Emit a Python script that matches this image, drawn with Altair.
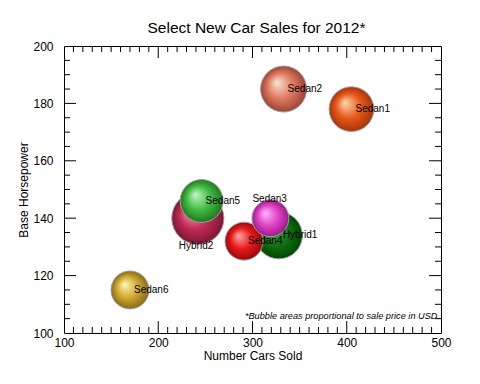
import altair as alt
import pandas as pd

# ---- data ----
cars = ["Sedan1", "Sedan2", "Hybrid1", "Hybrid2", "Sedan3", "Sedan4", "Sedan5", "Sedan6"]
sold = [405, 333, 328, 242, 319, 291, 246, 170]
horsepower = [178, 185, 134, 140, 140, 132, 146, 115]
price = [25000, 26500, 27500, 34000, 17000, 18000, 23000, 18000]

x_major = [200, 300, 400]
x_minor = [v for v in range(110, 500, 10) if v % 100 != 0]
y_major = [120, 140, 160, 180]
y_minor = [v for v in range(105, 200, 5) if v % 20 != 0]
x_labels = [100, 200, 300, 400, 500]
y_labels = [100, 120, 140, 160, 180, 200]

# ---- styles ----
palette = {
    "Sedan1": ("#fad8b0", "#e85a1a", "#a83408"),
    "Sedan2": ("#fae6d2", "#e07a62", "#9c4436"),
    "Hybrid1": ("#58b058", "#127412", "#004800"),
    "Hybrid2": ("#eeaabb", "#c42a55", "#7c1634"),
    "Sedan3": ("#ffb8ff", "#e244c4", "#9c1a8a"),
    "Sedan4": ("#ffaaaa", "#e81a1a", "#9a0808"),
    "Sedan5": ("#c4f8c4", "#44bc44", "#1e7a1e"),
    "Sedan6": ("#fff6b8", "#d0aa34", "#8a6a14"),
}
label_offsets = {"Hybrid2": (-19, 28), "Sedan3": (-18, -19)}

W, H = 377, 287
FONT = "Liberation Sans"

df = pd.DataFrame({"car": cars, "sold": sold, "hp": horsepower, "price": price})

x_scale = alt.Scale(domain=[100, 500], nice=False, zero=False)
y_scale = alt.Scale(domain=[100, 200], nice=False, zero=False)
x_axis = alt.Axis(title="Number Cars Sold", values=x_labels, tickSize=0,
                  domain=False, grid=False, labelPadding=4, labelFlush=False,
                  labelOverlap=False, titlePadding=2)
y_axis = alt.Axis(title="Base Horsepower", values=y_labels, tickSize=0,
                  domain=False, grid=False, labelPadding=11, labelFlush=False,
                  labelOverlap=False, titlePadding=2)
x_enc = alt.X("sold:Q", scale=x_scale, axis=x_axis)
y_enc = alt.Y("hp:Q", scale=y_scale, axis=y_axis)
size_enc = alt.Size("price:Q", scale=alt.Scale(domain=[0, 34000], range=[0, 2720]), legend=None)

base = alt.Chart(df).encode(x=x_enc, y=y_enc)


def grad(c):
    light, mid, dark = palette[c]
    return alt.RadialGradient(
        gradient="radial", x1=0.35, y1=0.35, r1=0, x2=0.5, y2=0.5, r2=0.5,
        stops=[alt.GradientStop(color=light, offset=0),
               alt.GradientStop(color=mid, offset=0.55),
               alt.GradientStop(color=dark, offset=1)])


order = [c for _, c in sorted(zip(price, cars), key=lambda t: -t[0])]
layers = []
for c in order:
    layers.append(base.transform_filter(alt.datum.car == c)
                  .mark_circle(fill=grad(c), opacity=1, stroke="#9aa0a8", strokeWidth=1)
                  .encode(size=size_enc))


# tick marks drawn inside the frame
def ticks(vals, side, length):
    ch = alt.Chart(pd.DataFrame({"sold": vals, "hp": vals})).mark_rule(color="black", strokeWidth=1)
    if side == "bottom":
        return ch.encode(x=x_enc, y=alt.value(H), y2=alt.value(H - length))
    if side == "top":
        return ch.encode(x=x_enc, y=alt.value(0), y2=alt.value(length))
    if side == "left":
        return ch.encode(y=y_enc, x=alt.value(0), x2=alt.value(length))
    return ch.encode(y=y_enc, x=alt.value(W), x2=alt.value(W - length))


for side in ("bottom", "top"):
    layers.append(ticks(x_major, side, 12))
    layers.append(ticks(x_minor, side, 6))
for side in ("left", "right"):
    layers.append(ticks(y_major, side, 12))
    layers.append(ticks(y_minor, side, 6))

# labels
plain = [c for c in cars if c not in label_offsets]
layers.append(base.transform_filter(alt.FieldOneOfPredicate(field="car", oneOf=plain))
              .mark_text(align="left", baseline="middle", dx=4, fontSize=10, font=FONT, color="black")
              .encode(text="car:N"))
for c, (dx, dy) in label_offsets.items():
    layers.append(base.transform_filter(alt.datum.car == c)
                  .mark_text(align="left", baseline="middle", dx=dx, dy=dy, fontSize=10, font=FONT,
                             color="black")
                  .encode(text="car:N"))

note = alt.Chart(pd.DataFrame({"t": ["*Bubble areas proportional to sale price in USD."]})).mark_text(
    align="right", baseline="middle", fontStyle="italic", fontSize=9.2, font=FONT, color="black"
).encode(text="t:N", x=alt.value(W - 1), y=alt.value(270))
layers.append(note)

chart = alt.layer(*layers).properties(
    width=W, height=H,
    title=alt.TitleParams("Select New Car Sales for 2012*", fontSize=15.5, fontWeight="normal",
                          font=FONT, color="black", offset=4, dx=4),
    autosize=alt.AutoSizeParams(type="none"),
    padding={"left": 56, "top": 38, "right": 31, "bottom": 43},
    background="white",
).configure_view(stroke="black", strokeWidth=1).configure_axis(
    labelFont=FONT, titleFont=FONT, labelFontSize=12, titleFontSize=12,
    titleFontWeight="normal", labelColor="black", titleColor="black"
)

chart.save("out.html", embed_options={"renderer": "svg", "actions": False})
